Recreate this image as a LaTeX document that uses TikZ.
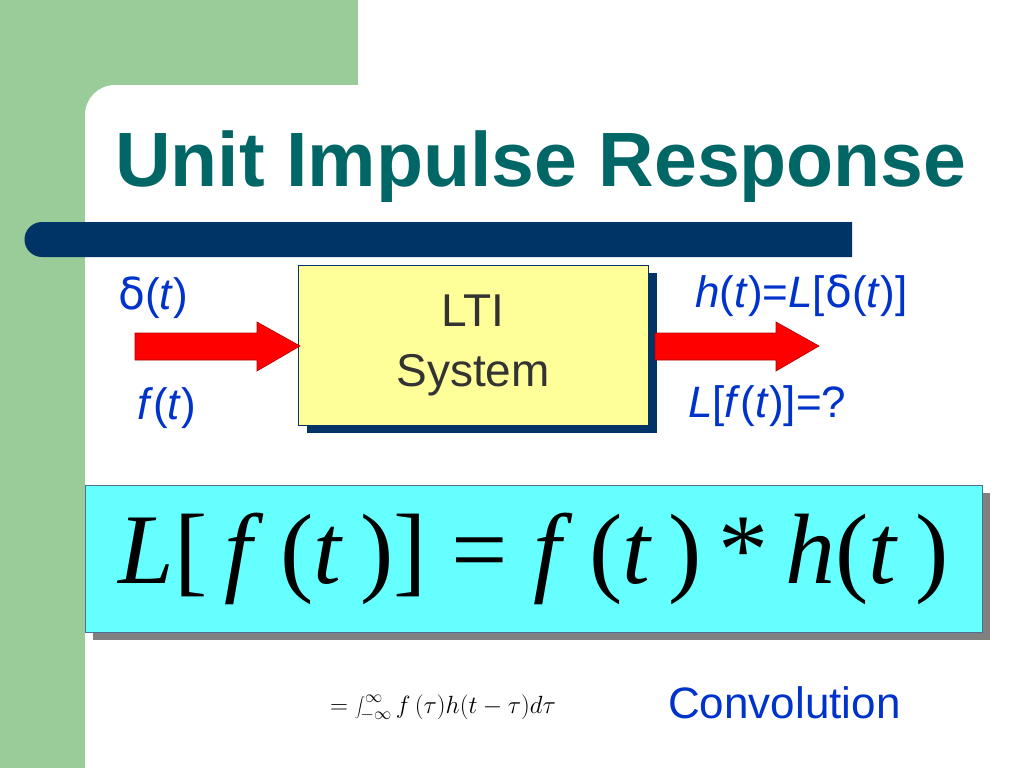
\documentclass[tikz,border=0pt]{standalone}
\usepackage{fontspec}
\setmainfont{Liberation Serif}
\setsansfont{Liberation Sans}
\newfontfamily\symfont{DejaVu Sans}
\definecolor{bggreen}{RGB}{153,204,153}
\definecolor{titleteal}{RGB}{0,102,102}
\definecolor{barnavy}{RGB}{0,51,102}
\definecolor{textblue}{RGB}{0,51,204}
\definecolor{boxyellow}{RGB}{255,255,153}
\definecolor{boxcyan}{RGB}{102,255,255}
\tikzset{
  bluelabel/.style={text=textblue, font=\sffamily\fontsize{44}{48}\selectfont, inner sep=0pt},
  redarrow/.style={fill=red, draw=red!70!black, line width=0.6pt},
}
\begin{document}
\begin{tikzpicture}[x=1pt,y=-1pt]
    \useasboundingbox (0,0) rectangle (1024,768);
    % Background
    \fill[bggreen] (0,0) rectangle (358,100);
    \fill[bggreen] (0,0) rectangle (100,768);
    \fill[white] (85,768) -- (85,115) arc[start angle=180, end angle=270, radius=30] -- (1024,85) -- (1024,768) -- cycle;

    % Title and bar
    \node[anchor=west, text=titleteal, font=\sffamily\bfseries\fontsize{77}{80}\selectfont, inner sep=0pt] (title) at (115,167) {Unit Impulse Response};
    \fill[barnavy] (852,222) -- (42,222) arc[start angle=270, end angle=90, radius=17.5] -- (852,257) -- cycle;

    % LTI system box
    \fill[barnavy] (307,273) rectangle (657,433);
    \node[draw=barnavy, fill=boxyellow, minimum width=350pt, minimum height=160pt, anchor=north west, align=center,
          font=\sffamily\fontsize{46}{60}\selectfont, text=black!80] (lti) at (298,265) {LTI\\System};

    % Arrows
    \draw[redarrow] (135,333) -- (257,333) -- (257,322) -- (300,346) -- (257,371) -- (257,360) -- (135,360) -- cycle;
    \draw[redarrow] (655,333) -- (776,333) -- (776,322) -- (819,346) -- (776,371) -- (776,360) -- (655,360) -- cycle;

    % Input / output labels
    \node[bluelabel, anchor=west] (delta) at (118,298) {{\symfont δ}(\textit{t})};
    \node[bluelabel, anchor=west] (ft) at (137,408) {\textit{f}(\textit{t})};
    \node[bluelabel, anchor=west] (ht) at (695,296) {\textit{h}(\textit{t})=\textit{L}[{\symfont δ}(\textit{t})]};
    \node[bluelabel, anchor=west] (lft) at (688,406) {\textit{L}[\textit{f}(\textit{t})]=?};

    % Convolution result box
    \fill[gray] (93,493) rectangle (990,640);
    \node[draw=barnavy!70, fill=boxcyan, minimum width=897pt, minimum height=147pt, anchor=north west,
          font=\fontsize{100}{100}\selectfont, inner sep=0pt] (result) at (85,485)
          {\textit{L}[\,\textit{f}\,(\textit{t}\,)] = \textit{f}\,(\textit{t}\,)\,*\,\textit{h}(\textit{t}\,)};

    % Integral
    \node[anchor=west, font=\fontsize{25}{30}\selectfont, inner sep=0pt] (integral) at (330,708)
          {$\displaystyle = \int_{-\infty}^{\infty} f\,(\tau)h(t-\tau)d\tau$};
    \node[bluelabel, anchor=west] (conv) at (668,703) {Convolution};
\end{tikzpicture}
\end{document}
